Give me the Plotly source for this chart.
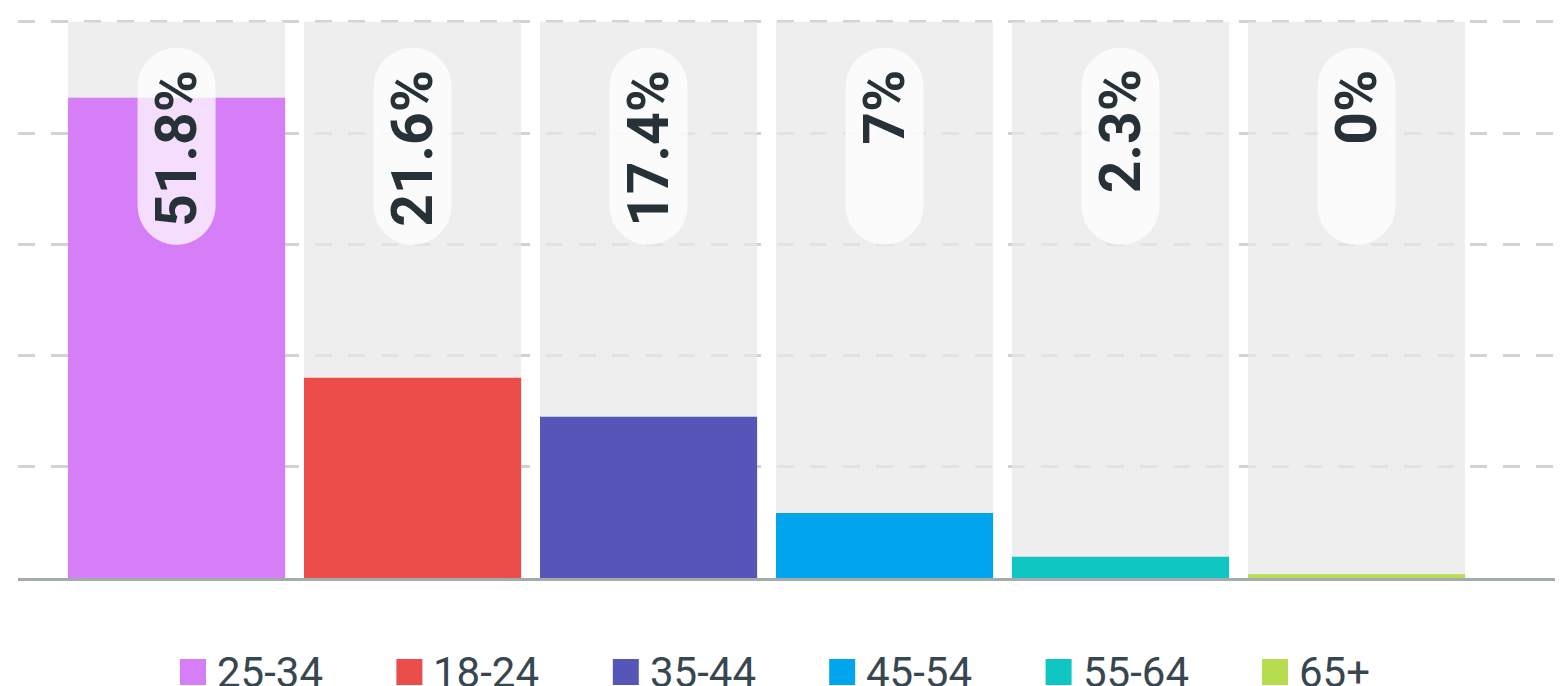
import math
import plotly.graph_objects as go

# ---- data ----
categories = ["25-34", "18-24", "35-44", "45-54", "55-64", "65+"]
shares = [51.8, 21.6, 17.4, 7.0, 2.3, 0.0]
colors = ["#d67ef7", "#eb4d4b", "#5556b7", "#00a5ee", "#10c6c3", "#b6dc50"]
labels = ["51.8%", "21.6%", "17.4%", "7%", "2.3%", "0%"]

# ---- style ----
YMAX = 60
YTOP = 60.3                # small headroom so the top grid line is drawn
MIN_VISIBLE = 0.4          # keep a hairline for zero-valued bars
W, H = 1555, 678           # page body adds an 8px margin
ML, MR, MT, MB = 10, 0, 11, 108
plot_h = H - MT - MB
plot_w = W - ML - MR
FONT = "Roboto"

xs = list(range(len(categories)))
shown = [max(v, MIN_VISIBLE) for v in shares]

fig = go.Figure()
fig.add_trace(go.Bar(
    x=xs, y=[YMAX] * len(xs), width=0.92,
    marker=dict(color="rgba(232,232,232,0.72)", line=dict(width=0)),
    hoverinfo="skip", showlegend=False,
))
fig.add_trace(go.Bar(
    x=xs, y=shown, width=0.92,
    marker=dict(color=colors, line=dict(width=0), cornerradius=5),
    customdata=shares, hovertemplate="%{customdata}%<extra></extra>",
    showlegend=False,
))

def pill_path(w, top, bottom, n=24):
    r = w / 2
    pts = []
    cy = top - r
    for k in range(n + 1):
        a = math.pi * k / n
        pts.append((r * math.cos(a), cy + r * math.sin(a)))
    cy2 = bottom + r
    for k in range(n + 1):
        a = math.pi + math.pi * k / n
        pts.append((r * math.cos(a), cy2 + r * math.sin(a)))
    return "M" + " L".join(f"{x:.2f},{y:.2f}" for x, y in pts) + " Z"

shapes = []
annotations = []
for i, lab in enumerate(labels):
    shapes.append(dict(
        type="path", xref="x", yref="y",
        xsizemode="pixel", ysizemode="pixel",
        xanchor=i, yanchor=YMAX,
        path=pill_path(78, -26, -223),
        fillcolor="rgba(255,255,255,0.75)", line=dict(width=0),
        layer="above",
    ))
    annotations.append(dict(
        x=i, y=YMAX, xref="x", yref="y",
        text=f"<b>{lab}</b>", showarrow=False, textangle=-90,
        xanchor="center", yanchor="top", yshift=-46,
        font=dict(family=FONT, size=57, color="#263238"),
    ))

# legend (squares + labels) below the plot
page_off = 8
leg_y = -(672 - page_off - (H - MB)) / plot_h
step = 216.4 / plot_w
x0 = (180 - page_off - ML) / plot_w
for i, (cat, col) in enumerate(zip(categories, colors)):
    xa = x0 + i * step
    shapes.append(dict(
        type="rect", xref="paper", yref="paper",
        xsizemode="pixel", ysizemode="pixel",
        xanchor=xa, yanchor=leg_y,
        x0=0, x1=26, y0=-13, y1=13,
        fillcolor=col, line=dict(width=0),
    ))
    annotations.append(dict(
        x=xa, y=leg_y, xref="paper", yref="paper",
        text=cat, showarrow=False, xanchor="left", yanchor="middle",
        xshift=35, yshift=0,
        font=dict(family=FONT, size=42, color="#37474f"),
    ))

fig.update_layout(
    width=W, height=H,
    margin=dict(l=ML, r=MR, t=MT, b=MB, pad=0),
    paper_bgcolor="white", plot_bgcolor="white",
    barmode="overlay",
    showlegend=False,
    shapes=shapes, annotations=annotations,
    font=dict(family=FONT),
    xaxis=dict(
        range=[-0.672, 5.875], showticklabels=False, showgrid=False,
        zeroline=False, showline=True, linecolor="#a3abab", linewidth=3,
        ticks="", fixedrange=True,
    ),
    yaxis=dict(
        range=[0, YTOP], tickvals=[12, 24, 36, 48, 60], showticklabels=False,
        showgrid=True, gridcolor="#d2d2d2", gridwidth=2.5, griddash="17px,16px",
        zeroline=False, showline=False, ticks="", fixedrange=True,
    ),
)

fig.write_html("out.html")
